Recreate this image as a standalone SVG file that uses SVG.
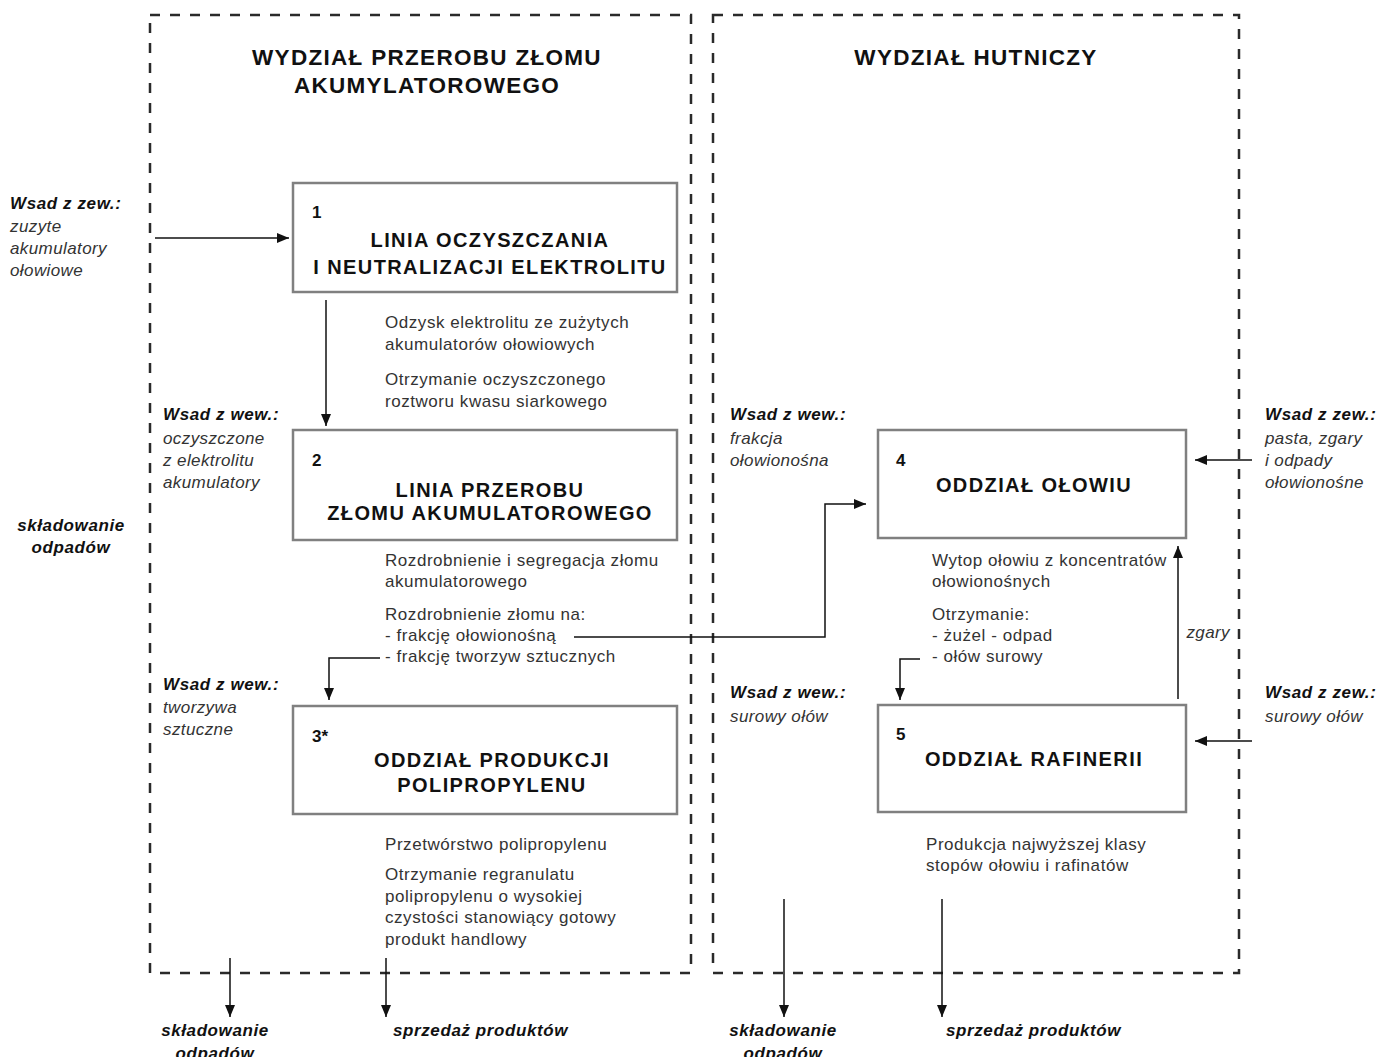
<svg xmlns="http://www.w3.org/2000/svg" width="1393" height="1057" viewBox="0 0 1393 1057">
<style>
.zone{fill:none;stroke:#2a2a2a;stroke-width:2.5;stroke-dasharray:10 10}
.box{fill:#fff;stroke:#808080;stroke-width:2.5}
.t{font-family:"Liberation Sans",Arial,sans-serif}
.h{font-size:22.5px;font-weight:bold;fill:#111;text-anchor:middle;letter-spacing:1.3px}
.bt{font-size:20px;font-weight:bold;fill:#111;text-anchor:middle;letter-spacing:1.4px}
.num{font-size:17px;font-weight:bold;fill:#111}
.d{font-size:17px;fill:#333;letter-spacing:0.55px}
.lb{font-size:17px;font-weight:bold;font-style:italic;fill:#111;letter-spacing:0.6px}
.li{font-size:17px;font-style:italic;fill:#333;letter-spacing:0.4px}
.c{fill:none;stroke:#111;stroke-width:1.5}
</style>
<defs>
<marker id="ah" viewBox="0 0 12 10" refX="12" refY="5" markerWidth="12" markerHeight="10" markerUnits="userSpaceOnUse" orient="auto">
<path d="M0,0 L12,5 L0,10 Z" fill="#111"/>
</marker>
</defs>
<rect width="1393" height="1057" fill="#fff"/>
<g id="zone-left">
<rect class="zone" x="150" y="15" width="541" height="958"/>
<text class="t h" x="427" y="65">WYDZIAŁ PRZEROBU ZŁOMU</text>
<text class="t h" x="427" y="93">AKUMYLATOROWEGO</text>
</g>
<g id="zone-right">
<rect class="zone" x="713" y="15" width="526" height="958"/>
<text class="t h" x="976" y="65">WYDZIAŁ HUTNICZY</text>
</g>
<g id="connectors">
<line class="c" x1="155" y1="238" x2="289" y2="238" marker-end="url(#ah)"/>
<line class="c" x1="326" y1="300" x2="326" y2="426" marker-end="url(#ah)"/>
<polyline class="c" points="574,637 825,637 825,504 866,504" marker-end="url(#ah)"/>
<polyline class="c" points="380,658 329,658 329,700" marker-end="url(#ah)"/>
<polyline class="c" points="920,659 900,659 900,700" marker-end="url(#ah)"/>
<line class="c" x1="1178" y1="699" x2="1178" y2="546" marker-end="url(#ah)"/>
<line class="c" x1="1252" y1="460" x2="1195" y2="460" marker-end="url(#ah)"/>
<line class="c" x1="1252" y1="741" x2="1195" y2="741" marker-end="url(#ah)"/>
<line class="c" x1="230" y1="958" x2="230" y2="1017" marker-end="url(#ah)"/>
<line class="c" x1="386" y1="958" x2="386" y2="1017" marker-end="url(#ah)"/>
<line class="c" x1="784" y1="899" x2="784" y2="1017" marker-end="url(#ah)"/>
<line class="c" x1="942" y1="899" x2="942" y2="1017" marker-end="url(#ah)"/>
</g>
<g id="node1">
<rect class="box" x="293" y="183" width="384" height="109"/>
<text class="t num" x="312" y="218">1</text>
<text class="t bt" x="490" y="247">LINIA OCZYSZCZANIA</text>
<text class="t bt" x="490" y="274">I NEUTRALIZACJI ELEKTROLITU</text>
<text class="t d" x="385" y="328">Odzysk elektrolitu ze zużytych</text>
<text class="t d" x="385" y="350">akumulatorów ołowiowych</text>
<text class="t d" x="385" y="385">Otrzymanie oczyszczonego</text>
<text class="t d" x="385" y="407">roztworu kwasu siarkowego</text>
</g>
<g id="node2">
<rect class="box" x="293" y="430" width="384" height="110"/>
<text class="t num" x="312" y="466">2</text>
<text class="t bt" x="490" y="497">LINIA PRZEROBU</text>
<text class="t bt" x="490" y="520">ZŁOMU AKUMULATOROWEGO</text>
<text class="t d" x="385" y="566">Rozdrobnienie i segregacja złomu</text>
<text class="t d" x="385" y="587">akumulatorowego</text>
<text class="t d" x="385" y="620">Rozdrobnienie złomu na:</text>
<text class="t d" x="385" y="641">- frakcję ołowionośną</text>
<text class="t d" x="385" y="662">- frakcję tworzyw sztucznych</text>
</g>
<g id="node3">
<rect class="box" x="293" y="706" width="384" height="108"/>
<text class="t num" x="312" y="742">3*</text>
<text class="t bt" x="492" y="767">ODDZIAŁ PRODUKCJI</text>
<text class="t bt" x="492" y="792">POLIPROPYLENU</text>
<text class="t d" x="385" y="850">Przetwórstwo polipropylenu</text>
<text class="t d" x="385" y="880">Otrzymanie regranulatu</text>
<text class="t d" x="385" y="902">polipropylenu o wysokiej</text>
<text class="t d" x="385" y="923">czystości stanowiący gotowy</text>
<text class="t d" x="385" y="945">produkt handlowy</text>
</g>
<g id="node4">
<rect class="box" x="878" y="430" width="308" height="108"/>
<text class="t num" x="896" y="466">4</text>
<text class="t bt" x="1034" y="492">ODDZIAŁ OŁOWIU</text>
<text class="t d" x="932" y="566">Wytop ołowiu z koncentratów</text>
<text class="t d" x="932" y="587">ołowionośnych</text>
<text class="t d" x="932" y="620">Otrzymanie:</text>
<text class="t d" x="932" y="641">- żużel - odpad</text>
<text class="t d" x="932" y="662">- ołów surowy</text>
</g>
<g id="node5">
<rect class="box" x="878" y="705" width="308" height="107"/>
<text class="t num" x="896" y="740">5</text>
<text class="t bt" x="1034" y="766">ODDZIAŁ RAFINERII</text>
<text class="t d" x="926" y="850">Produkcja najwyższej klasy</text>
<text class="t d" x="926" y="871">stopów ołowiu i rafinatów</text>
</g>
<g id="labels">
<text class="t lb" x="10" y="209">Wsad z zew.:</text>
<text class="t li" x="10" y="232">zuzyte</text>
<text class="t li" x="10" y="254">akumulatory</text>
<text class="t li" x="10" y="276">ołowiowe</text>
<text class="t lb" x="163" y="420">Wsad z wew.:</text>
<text class="t li" x="163" y="444">oczyszczone</text>
<text class="t li" x="163" y="466">z elektrolitu</text>
<text class="t li" x="163" y="488">akumulatory</text>
<text class="t lb" x="71" y="531" text-anchor="middle">składowanie</text>
<text class="t lb" x="71" y="553" text-anchor="middle">odpadów</text>
<text class="t lb" x="163" y="690">Wsad z wew.:</text>
<text class="t li" x="163" y="713">tworzywa</text>
<text class="t li" x="163" y="735">sztuczne</text>
<text class="t lb" x="730" y="420">Wsad z wew.:</text>
<text class="t li" x="730" y="444">frakcja</text>
<text class="t li" x="730" y="466">ołowionośna</text>
<text class="t lb" x="730" y="698">Wsad z wew.:</text>
<text class="t li" x="730" y="722">surowy ołów</text>
<text class="t lb" x="1265" y="420">Wsad z zew.:</text>
<text class="t li" x="1265" y="444">pasta, zgary</text>
<text class="t li" x="1265" y="466">i odpady</text>
<text class="t li" x="1265" y="488">ołowionośne</text>
<text class="t lb" x="1265" y="698">Wsad z zew.:</text>
<text class="t li" x="1265" y="722">surowy ołów</text>
<text class="t li" x="1230" y="638" text-anchor="end">zgary</text>
<text class="t lb" x="215" y="1036" text-anchor="middle">składowanie</text>
<text class="t lb" x="215" y="1059" text-anchor="middle">odpadów</text>
<text class="t lb" x="393" y="1036">sprzedaż produktów</text>
<text class="t lb" x="783" y="1036" text-anchor="middle">składowanie</text>
<text class="t lb" x="783" y="1059" text-anchor="middle">odpadów</text>
<text class="t lb" x="946" y="1036">sprzedaż produktów</text>
</g>
</svg>
